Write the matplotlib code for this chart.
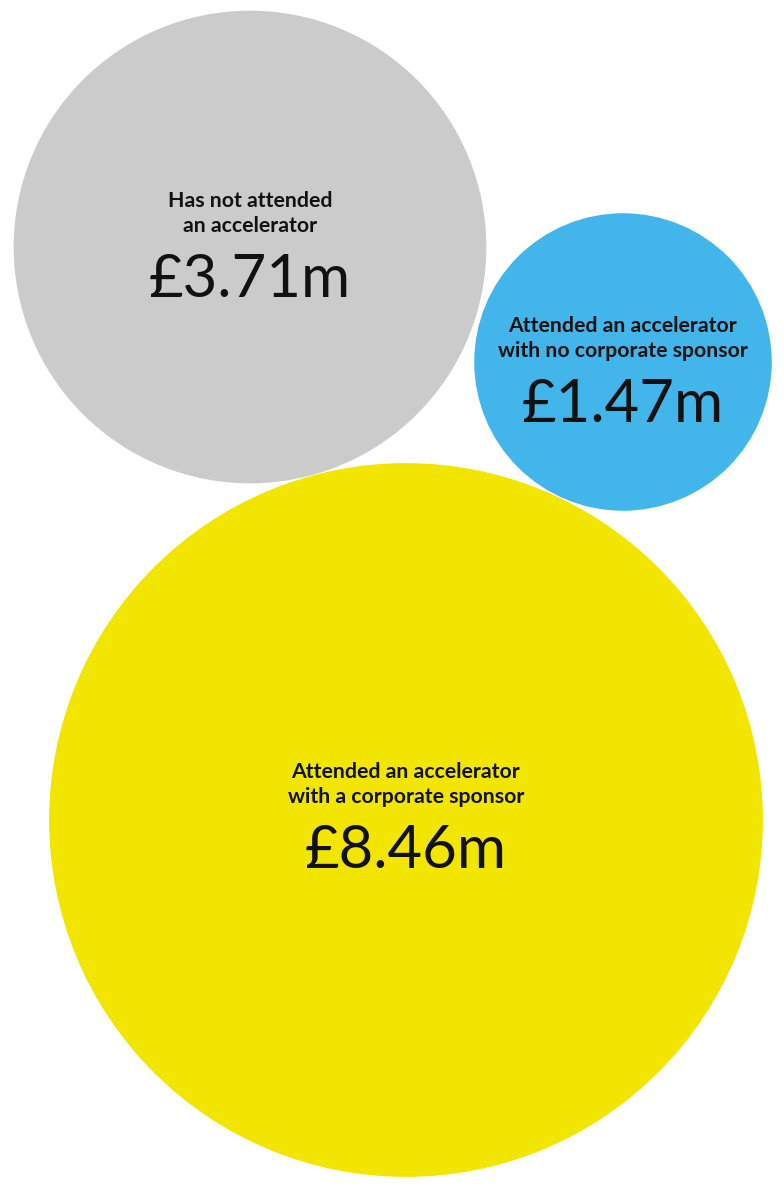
import numpy as np
import matplotlib.pyplot as plt

labels = ["Has not attended\nan accelerator",
          "Attended an accelerator\nwith no corporate sponsor",
          "Attended an accelerator\nwith a corporate sponsor"]
values = [3.71, 1.47, 8.46]
colors = ["#cbcbcb", "#42b6ea", "#f2e500"]

# layout of bubble centres (pixels), radius scales with sqrt(value)
centres = [(250, 247), (623, 362), (406, 820)]
text_shift = [0, 10, -2]   # vertical nudge of the text block in each bubble
scale = 122.7

fig = plt.figure(figsize=(7.84, 11.93), dpi=100)
ax = fig.add_axes([0, 0, 1, 1])
ax.set_xlim(0, 784)
ax.set_ylim(1193, 0)
ax.set_aspect("equal")
ax.axis("off")

for lab, val, col, (cx, cy), dy in zip(labels, values, colors, centres, text_shift):
    r = scale * np.sqrt(val)
    ax.add_patch(plt.Circle((cx, cy), r, color=col, lw=0))
    for i, line in enumerate(lab.split("\n")):
        ax.text(cx, cy + dy - 40 + 25 * i, line, ha="center", va="baseline",
                fontsize=15.3, fontweight="bold", family="Lato", color="#111111")
    ax.text(cx, cy + dy + 50, "£%.2fm" % val, ha="center", va="baseline",
            fontsize=43, family="Lato", color="#111111")

fig.savefig("out.png", dpi=100)
